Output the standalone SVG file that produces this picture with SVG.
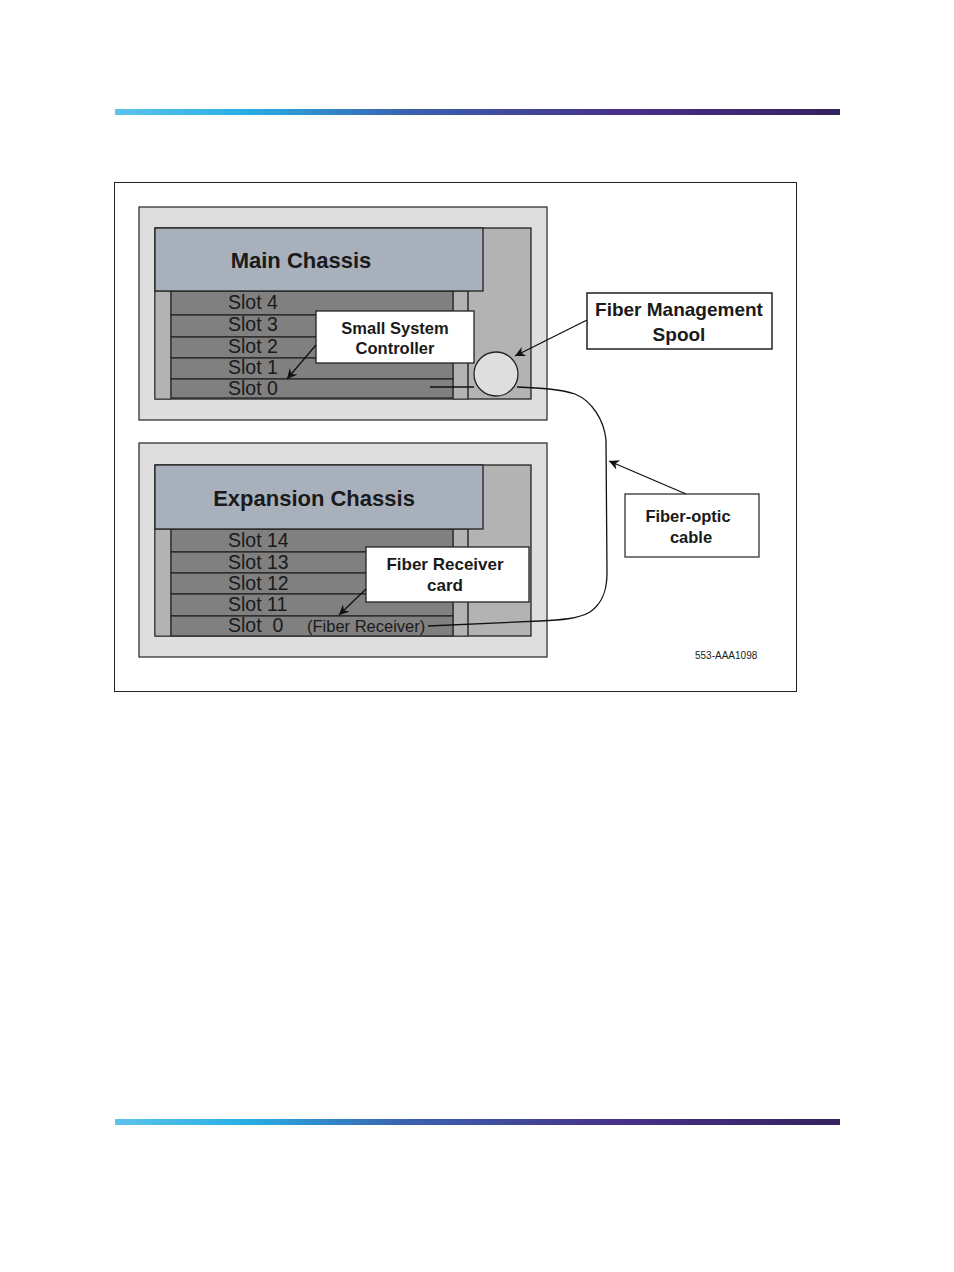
<svg xmlns="http://www.w3.org/2000/svg" width="954" height="1272" viewBox="0 0 954 1272">
<defs>
<linearGradient id="bar" x1="0" y1="0" x2="1" y2="0">
<stop offset="0" stop-color="#5cc3ea"/>
<stop offset="0.18" stop-color="#28aee4"/>
<stop offset="0.4" stop-color="#3a62ae"/>
<stop offset="0.7" stop-color="#47308a"/>
<stop offset="1" stop-color="#35235e"/>
</linearGradient>
<marker id="ah" viewBox="0 0 10 10" refX="10" refY="5" markerWidth="16" markerHeight="10" markerUnits="userSpaceOnUse" orient="auto">
<path d="M0,0 L10,5 L0,10 L3,5 Z" fill="#111"/>
</marker>
<style>
.outer{fill:#dedede;stroke:#333;stroke-width:1.3}
.inner{fill:#b3b3b3;stroke:#222;stroke-width:1.3}
.head{fill:#a8b0bb;stroke:#222;stroke-width:1.3}
.slot{fill:#808080;stroke:#222;stroke-width:1.2}
.strip{fill:#b3b3b3;stroke:#333;stroke-width:1}
.lbl{fill:#fff;stroke:#222;stroke-width:1.3}
.t{font-family:"Liberation Sans",Arial,sans-serif;fill:#1a1a1a}
.sl{font-size:19.5px}
.big{font-size:22px;font-weight:bold}
.b{font-weight:bold}
.wire{fill:none;stroke:#111;stroke-width:1.3}
</style>
</defs>
<rect x="115" y="109" width="725" height="6" fill="url(#bar)"/>
<rect x="115" y="1119" width="725" height="6" fill="url(#bar)"/>
<rect x="114.5" y="182.5" width="682" height="509" fill="none" stroke="#222" stroke-width="1"/>

<g id="main-chassis">
<rect class="outer" x="139" y="207" width="408" height="213"/>
<rect class="inner" x="155" y="228" width="376" height="171"/>
<rect class="strip" x="155" y="291" width="16" height="108"/>
<rect class="strip" x="453" y="291" width="15" height="108"/>
<line x1="468" y1="291" x2="468" y2="399" stroke="#333" stroke-width="1.2"/>
<rect class="slot" x="171" y="291" width="282" height="24"/>
<rect class="slot" x="171" y="315" width="282" height="22"/>
<rect class="slot" x="171" y="337" width="282" height="21"/>
<rect class="slot" x="171" y="358" width="282" height="21"/>
<rect class="slot" x="171" y="379" width="282" height="19"/>
<rect class="head" x="155" y="228" width="328" height="63"/>
<text class="t big" x="301" y="268" text-anchor="middle">Main Chassis</text>
<text class="t sl" x="228" y="309">Slot 4</text>
<text class="t sl" x="228" y="331">Slot 3</text>
<text class="t sl" x="228" y="353">Slot 2</text>
<text class="t sl" x="228" y="374">Slot 1</text>
<text class="t sl" x="228" y="395">Slot 0</text>
</g>

<g id="spool">
<circle cx="496" cy="374" r="22" fill="#dedede" stroke="#222" stroke-width="1.3"/>
</g>

<g id="ssc-label">
<rect class="lbl" x="316" y="311" width="158" height="52"/>
<text class="t b" x="395" y="334" font-size="16.5" text-anchor="middle">Small System</text>
<text class="t b" x="395" y="354" font-size="16.5" text-anchor="middle">Controller</text>
</g>

<g id="expansion-chassis">
<rect class="outer" x="139" y="443" width="408" height="214"/>
<rect class="inner" x="155" y="465" width="376" height="171"/>
<rect class="strip" x="155" y="529" width="16" height="107"/>
<rect class="strip" x="453" y="529" width="15" height="107"/>
<line x1="468" y1="529" x2="468" y2="636" stroke="#333" stroke-width="1.2"/>
<rect class="slot" x="171" y="529" width="282" height="23"/>
<rect class="slot" x="171" y="552" width="282" height="21"/>
<rect class="slot" x="171" y="573" width="282" height="21"/>
<rect class="slot" x="171" y="594" width="282" height="22"/>
<rect class="slot" x="171" y="616" width="282" height="20"/>
<rect class="head" x="155" y="465" width="328" height="64"/>
<text class="t big" x="314" y="506" text-anchor="middle">Expansion Chassis</text>
<text class="t sl" x="228" y="547">Slot 14</text>
<text class="t sl" x="228" y="569">Slot 13</text>
<text class="t sl" x="228" y="590">Slot 12</text>
<text class="t sl" x="228" y="611">Slot 11</text>
<text class="t sl" x="228" y="632" xml:space="preserve">Slot  0</text>
<text class="t" x="307" y="632" font-size="16.5">(Fiber Receiver)</text>
</g>

<g id="frc-label">
<rect class="lbl" x="366" y="547" width="163" height="55"/>
<text class="t b" x="445" y="570" font-size="17" text-anchor="middle">Fiber Receiver</text>
<text class="t b" x="445" y="591" font-size="17" text-anchor="middle">card</text>
</g>

<g id="fms-label">
<rect x="587" y="293" width="185" height="56" fill="#fff" stroke="#222" stroke-width="1.5"/>
<text class="t b" x="679" y="316" font-size="19" text-anchor="middle">Fiber Management</text>
<text class="t b" x="679" y="341" font-size="19" text-anchor="middle">Spool</text>
</g>

<g id="foc-label">
<rect x="625" y="494" width="134" height="63" fill="#fff" stroke="#222" stroke-width="1.2"/>
<text class="t b" x="688" y="522" font-size="16.5" text-anchor="middle">Fiber-optic</text>
<text class="t b" x="691" y="543" font-size="16.5" text-anchor="middle">cable</text>
</g>

<text class="t" x="695" y="659" font-size="10">553-AAA1098</text>

<g id="connectors">
<line class="wire" x1="430" y1="387" x2="474" y2="387"/>
<path class="wire" d="M517,387 C540,388 560,389 575,394 C592,401 604,420 606,440 L607,573 C607,590 603,603 590,612 C578,619 560,620 540,621 L428,626"/>
<line class="wire" x1="316" y1="345" x2="287" y2="379" marker-end="url(#ah)"/>
<line class="wire" x1="587" y1="320" x2="515" y2="356" marker-end="url(#ah)"/>
<line class="wire" x1="686" y1="494" x2="609" y2="461" marker-end="url(#ah)"/>
<line class="wire" x1="366" y1="589" x2="339" y2="615" marker-end="url(#ah)"/>
</g>
</svg>
